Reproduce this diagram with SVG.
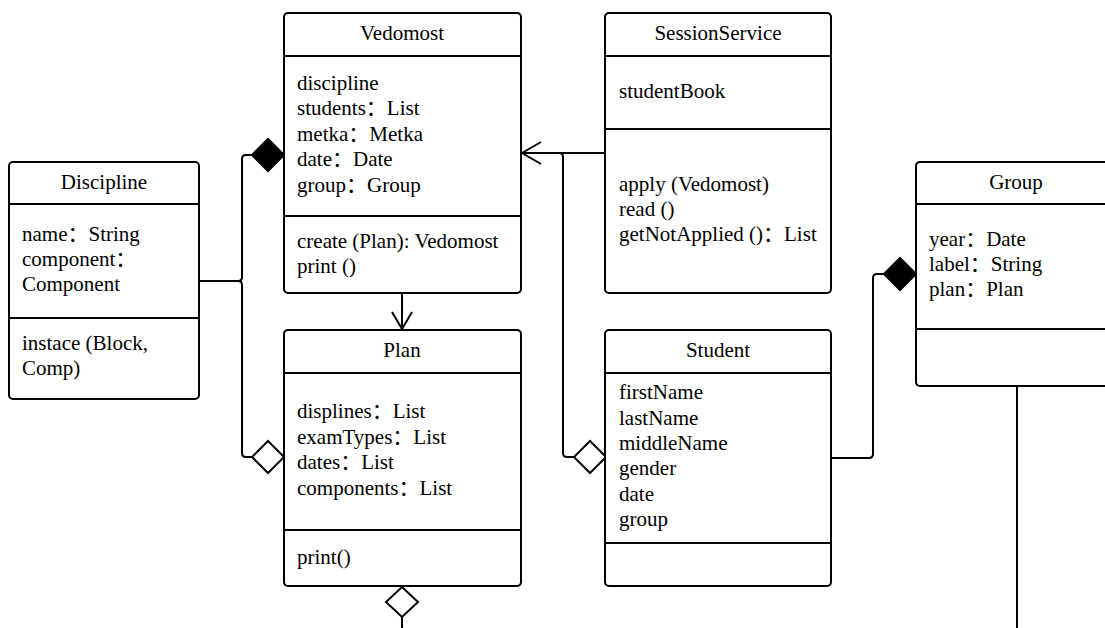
<svg xmlns="http://www.w3.org/2000/svg" width="1105" height="628" viewBox="0 0 1105 628">
<defs>
<style>
.box{fill:#fff;stroke:#000;stroke-width:2}
.sep{stroke:#000;stroke-width:2;fill:none}
.t{font-family:"Liberation Serif","Noto Sans CJK SC",serif;font-size:21px;fill:#000}
.c{text-anchor:middle}
.e{fill:none;stroke:#000;stroke-width:2;stroke-linejoin:round}
.fd{fill:#000;stroke:#000;stroke-width:2}
.od{fill:#fff;stroke:#000;stroke-width:2}
</style>
</defs>
<rect width="1105" height="628" fill="#fff"/>
<g id="connectors">
<path class="e" d="M199,281 H238 Q242,281 242,277 V159 Q242,155 246,155 H253"/>
<path class="e" d="M199,281 H238 Q242,281 242,285 V453 Q242,457 246,457 H253"/>
<path class="fd" d="M284,155 L268,139 L252,155 L268,171 Z"/>
<path class="od" d="M284,457 L268,441 L252,457 L268,473 Z"/>
<path class="e" d="M402,293 V329"/>
<path class="e" d="M392,312 L402,329 L412,312"/>
<path class="e" d="M605,153 H522"/>
<path class="e" d="M541,142 L522,153 L541,164"/>
<path class="e" d="M574,457 H567 Q563,457 563,453 V157 Q563,153 559,153 H522"/>
<path class="od" d="M606,457 L590,441 L574,457 L590,473 Z"/>
<path class="e" d="M828,458 H869 Q873,458 873,454 V278 Q873,274 877,274 H884"/>
<path class="fd" d="M916,274 L900,258 L884,274 L900,290 Z"/>
<path class="od" d="M402,587 L418,602 L402,617 L386,602 Z"/>
<path class="e" d="M402,617 V628"/>
<path class="e" d="M1017,386 V628"/>
</g>
<g id="Discipline">
<rect class="box" x="9" y="162" width="190" height="237" rx="4"/>
<path class="sep" d="M9,204 H199 M9,318 H199"/>
<text class="t c" x="104" y="189">Discipline</text>
<text class="t" x="22" y="241">name：String</text>
<text class="t" x="22" y="266">component：</text>
<text class="t" x="22" y="291">Component</text>
<text class="t" x="22" y="350">instace (Block,</text>
<text class="t" x="22" y="375">Comp)</text>
</g>
<g id="Vedomost">
<rect class="box" x="284" y="13" width="237" height="280" rx="4"/>
<path class="sep" d="M284,56 H521 M284,216 H521"/>
<text class="t c" x="402" y="40">Vedomost</text>
<text class="t" x="297" y="90">discipline</text>
<text class="t" x="297" y="115">students：List</text>
<text class="t" x="297" y="141">metka：Metka</text>
<text class="t" x="297" y="166">date：Date</text>
<text class="t" x="297" y="192">group：Group</text>
<text class="t" x="297" y="248">create (Plan): Vedomost</text>
<text class="t" x="297" y="273">print ()</text>
</g>
<g id="SessionService">
<rect class="box" x="605" y="13" width="226" height="280" rx="4"/>
<path class="sep" d="M605,56 H831 M605,129 H831"/>
<text class="t c" x="718" y="40">SessionService</text>
<text class="t" x="619" y="98">studentBook</text>
<text class="t" x="619" y="191">apply (Vedomost)</text>
<text class="t" x="619" y="216">read ()</text>
<text class="t" x="619" y="241">getNotApplied ()：List</text>
</g>
<g id="Plan">
<rect class="box" x="284" y="330" width="237" height="256" rx="4"/>
<path class="sep" d="M284,373 H521 M284,530 H521"/>
<text class="t c" x="402" y="357">Plan</text>
<text class="t" x="297" y="418">displines：List</text>
<text class="t" x="297" y="444">examTypes：List</text>
<text class="t" x="297" y="469">dates：List</text>
<text class="t" x="297" y="495">components：List</text>
<text class="t" x="297" y="564">print()</text>
</g>
<g id="Student">
<rect class="box" x="605" y="330" width="226" height="256" rx="4"/>
<path class="sep" d="M605,373 H831 M605,543 H831"/>
<text class="t c" x="718" y="357">Student</text>
<text class="t" x="619" y="399">firstName</text>
<text class="t" x="619" y="425">lastName</text>
<text class="t" x="619" y="450">middleName</text>
<text class="t" x="619" y="475">gender</text>
<text class="t" x="619" y="501">date</text>
<text class="t" x="619" y="526">group</text>
</g>
<g id="Group">
<rect class="box" x="916" y="162" width="200" height="224" rx="4"/>
<path class="sep" d="M916,204 H1116 M916,329 H1116"/>
<text class="t c" x="1016" y="189">Group</text>
<text class="t" x="929" y="246">year：Date</text>
<text class="t" x="929" y="271">label：String</text>
<text class="t" x="929" y="296">plan：Plan</text>
</g>
</svg>
